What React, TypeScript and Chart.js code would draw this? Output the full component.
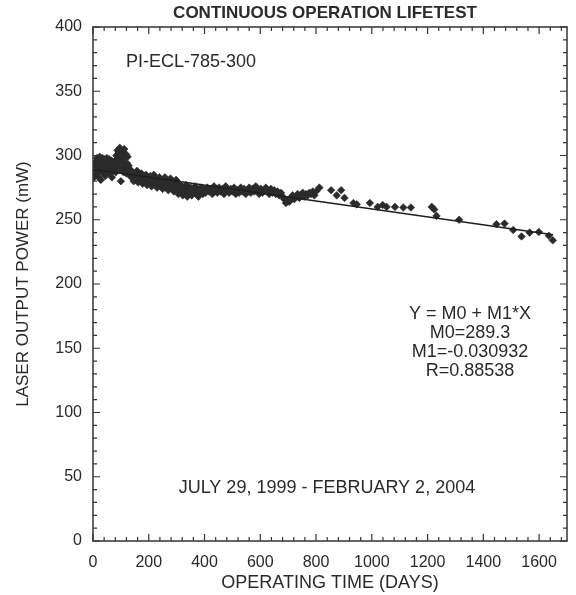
import { useEffect, useRef } from "react";
import { Chart, registerables } from "chart.js";

Chart.register(...registerables);

// Operating time (days) of each measurement
const days = [
  0, 2, 4, 6, 8, 10, 12, 14, 16, 18,
  20, 22, 24, 26, 28, 30, 32, 34, 36, 38,
  40, 42, 44, 46, 48, 50, 52, 54, 56, 58,
  60, 62, 64, 66, 68, 70, 72, 74, 76, 78,
  80, 82, 84, 86, 88, 90, 92, 94, 96, 98,
  100, 102, 104, 106, 108, 110, 112, 114, 116, 118,
  120, 122, 124, 126, 128, 130, 134, 138, 142, 146,
  150, 154, 158, 162, 166, 170, 174, 178, 182, 186,
  190, 194, 198, 202, 206, 210, 214, 218, 222, 226,
  230, 234, 238, 242, 246, 250, 254, 258, 262, 266,
  270, 274, 278, 282, 286, 290, 294, 298, 302, 306,
  310, 314, 318, 322, 326, 330, 334, 338, 342, 346,
  350, 354, 358, 362, 366, 370, 374, 378, 382, 386,
  390, 394, 398, 404, 410, 416, 422, 428, 434, 440,
  446, 452, 458, 464, 470, 476, 482, 488, 494, 500,
  506, 512, 518, 524, 530, 536, 542, 548, 554, 560,
  566, 572, 578, 584, 590, 596, 602, 608, 614, 620,
  626, 632, 638, 644, 650, 656, 662, 668, 674, 680,
  686, 692, 698, 704, 710, 716, 722, 728, 734, 740,
  746, 752, 758, 764, 770, 776, 782, 788, 794, 800,
  812, 854, 874, 890, 902, 934, 946, 993, 1021, 1039,
  1053, 1083, 1113, 1140, 1215, 1224, 1232, 1313, 1447, 1476,
  1507, 1537, 1566, 1599, 1635, 1649,
];

// Laser output power (mW) of each measurement
const power = [
  285, 289, 283, 292, 287, 295, 290, 298, 284, 293,
  297, 288, 299, 294, 281, 296, 291, 298, 286, 293,
  297, 289, 284, 295, 292, 298, 287, 294, 290, 297,
  286, 293, 289, 296, 283, 291, 295, 288, 293, 290,
  296, 287, 300, 292, 304, 295, 302, 289, 306, 297,
  280, 299, 291, 303, 294, 287, 305, 298, 290, 301,
  286, 294, 299, 288, 292, 285, 289, 283, 287, 280,
  285, 282, 288, 279, 284, 281, 286, 278, 283, 280,
  285, 277, 282, 279, 284, 276, 281, 285, 278, 282,
  275, 280, 283, 277, 281, 274, 279, 283, 276, 280,
  273, 278, 282, 275, 279, 272, 277, 281, 274, 270,
  278, 272, 276, 269, 274, 271, 277, 268, 273, 270,
  275, 269, 274, 271, 276, 270, 273, 268, 274, 271,
  275, 270, 273, 271, 275, 272, 274, 270, 276, 273,
  271, 275, 272, 274, 270, 276, 273, 271, 274, 272,
  275, 270, 273, 271, 275, 272, 274, 270, 273, 275,
  271, 274, 272, 276, 273, 270, 274, 271, 273, 275,
  272, 270, 274, 271, 273, 270, 272, 269, 271, 268,
  266, 263, 265, 264, 267, 269, 266, 268, 270, 267,
  269, 271, 268, 270, 269, 271, 270, 272, 269, 272,
  275, 273, 269, 273, 267, 263, 262, 263, 260, 261.5,
  260, 260, 259.5, 259.5, 260, 258, 253, 250, 246.5, 247,
  242, 237, 240, 240.5, 237.5, 234,
];

// Linear fit line end points (Y = M0 + M1*X)
const fitDays = [0, 1650];
const fitPower = [289.3, 238.3];

const chartTitle = "CONTINUOUS OPERATION LIFETEST";
const xTitle = "OPERATING TIME (DAYS)";
const yTitle = "LASER OUTPUT POWER (mW)";
const deviceLabel = "PI-ECL-785-300";
const equationLines = ["Y = M0 + M1*X", "M0=289.3", "M1=-0.030932", "R=0.88538"];
const dateRange = "JULY 29, 1999 - FEBRUARY 2, 2004";

const FONT = '"Liberation Sans", Arial, Helvetica, sans-serif';
const INK = "#2a2a2a";

const framePlugin = {
  id: "frameAndNotes",
  afterDraw(chart: any) {
    const { ctx, chartArea: a, scales } = chart;
    const x = scales.x;
    const y = scales.y;
    ctx.save();
    ctx.strokeStyle = "#333";
    ctx.lineWidth = 1.5;
    ctx.strokeRect(a.left, a.top, a.right - a.left, a.bottom - a.top);
    ctx.lineWidth = 1.2;
    ctx.beginPath();
    for (let v = 0; v <= 1700; v += 40) {
      const px = x.getPixelForValue(v);
      const len = v % 200 === 0 ? 7 : 4;
      ctx.moveTo(px, a.bottom);
      ctx.lineTo(px, a.bottom - len);
      ctx.moveTo(px, a.top);
      ctx.lineTo(px, a.top + len);
    }
    for (let v = 0; v <= 400; v += 10) {
      const py = y.getPixelForValue(v);
      const len = v % 50 === 0 ? 7 : 4;
      ctx.moveTo(a.left, py);
      ctx.lineTo(a.left + len, py);
      ctx.moveTo(a.right, py);
      ctx.lineTo(a.right - len, py);
    }
    ctx.stroke();

    ctx.fillStyle = INK;
    ctx.textBaseline = "middle";
    ctx.textAlign = "center";
    ctx.font = `bold 17px ${FONT}`;
    ctx.fillText(chartTitle, (a.left + a.right) / 2 - 5, a.top - 14);

    ctx.font = `18px ${FONT}`;
    ctx.textAlign = "left";
    ctx.fillText(deviceLabel, x.getPixelForValue(118), y.getPixelForValue(372.4));

    ctx.textAlign = "center";
    const eqY = [176.7, 161.9, 147.1, 132.3];
    equationLines.forEach((t, i) => {
      ctx.fillText(t, x.getPixelForValue(1352), y.getPixelForValue(eqY[i]));
    });
    ctx.fillText(dateRange, x.getPixelForValue(839), y.getPixelForValue(40.9));
    ctx.restore();
  },
};

export default function App() {
  const canvasRef = useRef<HTMLCanvasElement | null>(null);

  useEffect(() => {
    document.body.style.margin = "0";
    const canvas = canvasRef.current;
    if (!canvas) return;
    const points = days.map((d, i) => ({ x: d, y: power[i] }));
    const fit = fitDays.map((d, i) => ({ x: d, y: fitPower[i] }));
    const chart = new Chart(canvas, {
      type: "scatter",
      data: {
        datasets: [
          {
            label: "fit",
            data: fit,
            showLine: true,
            borderColor: "#1e1e1e",
            borderWidth: 1.4,
            pointRadius: 0,
            order: 1,
          } as any,
          {
            label: "data",
            data: points,
            pointStyle: "rectRot",
            pointRadius: 3.8,
            pointBackgroundColor: "#2b2b2b",
            pointBorderColor: "#2b2b2b",
            pointBorderWidth: 0.6,
            order: 2,
          } as any,
        ],
      },
      options: {
        animation: false,
        responsive: true,
        maintainAspectRatio: false,
        layout: { padding: { top: 27, right: 9, bottom: 0, left: 0 } },
        plugins: {
          legend: { display: false },
          tooltip: { enabled: false },
          title: { display: false },
        },
        scales: {
          x: {
            type: "linear",
            min: 0,
            max: 1700,
            grid: { display: false, drawTicks: false },
            border: { display: false },
            ticks: {
              stepSize: 200,
              includeBounds: false,
              color: INK,
              font: { size: 16, family: FONT },
              padding: 12,
              maxRotation: 0,
              callback: (v: any) => (v > 1600 ? "" : String(v)),
            },
            title: {
              display: true,
              text: xTitle,
              color: INK,
              font: { size: 18, family: FONT },
              padding: { top: 0, bottom: 1 },
            },
            afterFit: (s: any) => {
              s.height = 54;
            },
          },
          y: {
            type: "linear",
            min: 0,
            max: 400,
            grid: { display: false, drawTicks: false },
            border: { display: false },
            ticks: {
              stepSize: 50,
              color: INK,
              font: { size: 16, family: FONT },
              padding: 11,
            },
            title: {
              display: true,
              text: yTitle,
              color: INK,
              font: { size: 17, family: FONT },
              padding: { top: 13, bottom: 0 },
            },
            afterFit: (s: any) => {
              s.width = 93;
            },
          },
        },
      } as any,
      plugins: [framePlugin],
    });
    return () => chart.destroy();
  }, []);

  return (
    <div style={{ position: "absolute", left: 0, top: 0, width: 576, height: 595 }}>
      <canvas ref={canvasRef} />
    </div>
  );
}
